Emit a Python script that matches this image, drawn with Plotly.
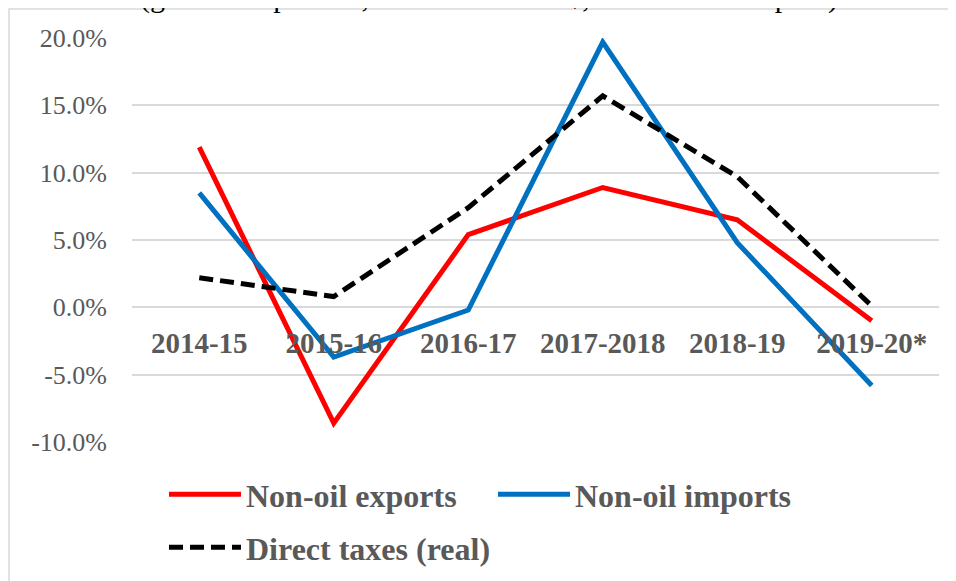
import plotly.graph_objects as go

categories = ["2014-15", "2015-16", "2016-17", "2017-2018", "2018-19", "2019-20*"]
non_oil_exports = [11.9, -8.6, 5.4, 8.9, 6.5, -1.0]
non_oil_imports = [8.5, -3.7, -0.2, 19.7, 4.8, -5.8]
direct_taxes_real = [2.2, 0.8, 7.4, 15.7, 9.7, 0.1]

y_tick_vals = [-10, -5, 0, 5, 10, 15, 20]
y_tick_text = ["-10.0%", "-5.0%", "0.0%", "5.0%", "10.0%", "15.0%", "20.0%"]

title_text = "(growth in percent, trade in current $, taxes in real rupees)"

FONT = "Liberation Serif"
GRAY = "#595959"

# plot area in screen pixels (page has an 8px body margin)
PL, PR, PT, PB = 132, 939, 38, 442
PW, PH = PR - PL, PB - PT


def px(x):
    return (x - PL) / PW


def py(y):
    return (PB - y) / PH


fig = go.Figure()
fig.add_trace(go.Scatter(x=categories, y=non_oil_exports, name="Non-oil exports",
                         mode="lines", line=dict(color="#FF0000", width=5),
                         legend="legend"))
fig.add_trace(go.Scatter(x=categories, y=non_oil_imports, name="Non-oil imports",
                         mode="lines", line=dict(color="#0070C0", width=5),
                         legend="legend"))
fig.add_trace(go.Scatter(x=categories, y=direct_taxes_real, name="Direct taxes (real)",
                         mode="lines", line=dict(color="#000000", width=5, dash="14px,7px"),
                         legend="legend2"))

# chart border
fig.add_shape(type="rect", xref="paper", yref="paper",
              x0=px(9), x1=px(975), y0=py(600), y1=py(9),
              line=dict(color="#D9D9D9", width=1.5), fillcolor="rgba(0,0,0,0)", layer="below")

fig.add_annotation(text=title_text, xref="paper", yref="paper",
                   x=px(489), y=py(16), xanchor="center", yanchor="bottom",
                   showarrow=False, font=dict(family=FONT, size=30, color="#000000"))

fig.update_layout(
    width=956, height=581,
    margin=dict(l=PL - 8, r=956 - (PR - 8), t=PT - 8, b=581 - (PB - 8), autoexpand=False),
    paper_bgcolor="white", plot_bgcolor="white",
    font=dict(family=FONT, color=GRAY),
    showlegend=True,
    xaxis=dict(type="category", range=[-0.5, 5.5], anchor="free", position=1 / 3,
               showgrid=False, showline=False, ticks="",
               tickfont=dict(family=FONT, size=29, color=GRAY, weight="bold"),
               ticklabelstandoff=16),
    yaxis=dict(range=[-10, 20], tickvals=y_tick_vals, ticktext=y_tick_text,
               showgrid=True, gridcolor="#D9D9D9", gridwidth=1.5,
               zeroline=True, zerolinecolor="#D9D9D9", zerolinewidth=1.5,
               showline=False, ticks="",
               tickfont=dict(family=FONT, size=26, color=GRAY),
               ticklabelstandoff=24),
    legend=dict(orientation="h", x=px(164), xanchor="left",
                y=py(467), yanchor="top", itemwidth=72,
                font=dict(family=FONT, size=32, color=GRAY, weight="bold"),
                entrywidth=242, entrywidthmode="pixels",
                bgcolor="rgba(0,0,0,0)", tracegroupgap=0),
    legend2=dict(orientation="h", x=px(164), xanchor="left",
                 y=py(520), yanchor="top", itemwidth=72,
                 font=dict(family=FONT, size=32, color=GRAY, weight="bold"),
                 bgcolor="rgba(0,0,0,0)"),
    hovermode=False,
)

fig.write_html("out.html")
